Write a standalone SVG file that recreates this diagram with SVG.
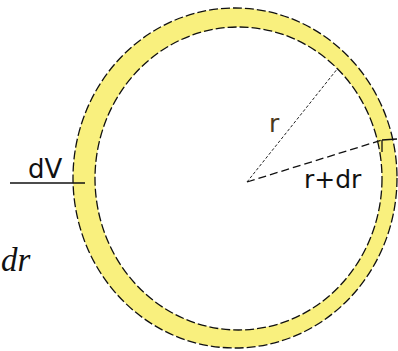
<svg xmlns="http://www.w3.org/2000/svg" width="398" height="351" viewBox="0 0 398 351">
<style>
.edge{fill:none;stroke:#111;stroke-width:1.3;stroke-dasharray:9 3}
.lbl{font-family:"DejaVu Sans",Verdana,sans-serif;fill:#111}
</style>
<rect width="398" height="351" fill="#fff"/>
<g id="ring">
<ellipse cx="235" cy="178" rx="162" ry="170" fill="#f9f07e"/>
<ellipse cx="238.5" cy="178.5" rx="143.5" ry="151.5" fill="#fff"/>
<ellipse class="edge" cx="235" cy="178" rx="162" ry="170"/>
<ellipse class="edge" cx="238.5" cy="178.5" rx="143.5" ry="151.5"/>
<path d="M382,140 L397,139 M382,140 L382,152" stroke="#111" stroke-width="1.3" fill="none"/>
</g>
<g id="connectors">
<line x1="247" y1="182" x2="338" y2="68" stroke="#222" stroke-width="1" stroke-dasharray="3 2"/>
<line x1="247" y1="182" x2="382" y2="140" stroke="#111" stroke-width="1.3" stroke-dasharray="8 4"/>
<line x1="10" y1="183" x2="85" y2="183" stroke="#111" stroke-width="1.5"/>
</g>
<g id="labels">
<text class="lbl" x="269" y="132" font-size="25" style="fill:#4a3a1e">r</text>
<text class="lbl" x="304" y="188" font-size="25">r+dr</text>
<text class="lbl" x="28" y="178" font-size="26">dV</text>
<text x="1" y="271" font-family="'Liberation Serif',serif" font-style="italic" font-size="33" fill="#111">dr</text>
</g>
</svg>
